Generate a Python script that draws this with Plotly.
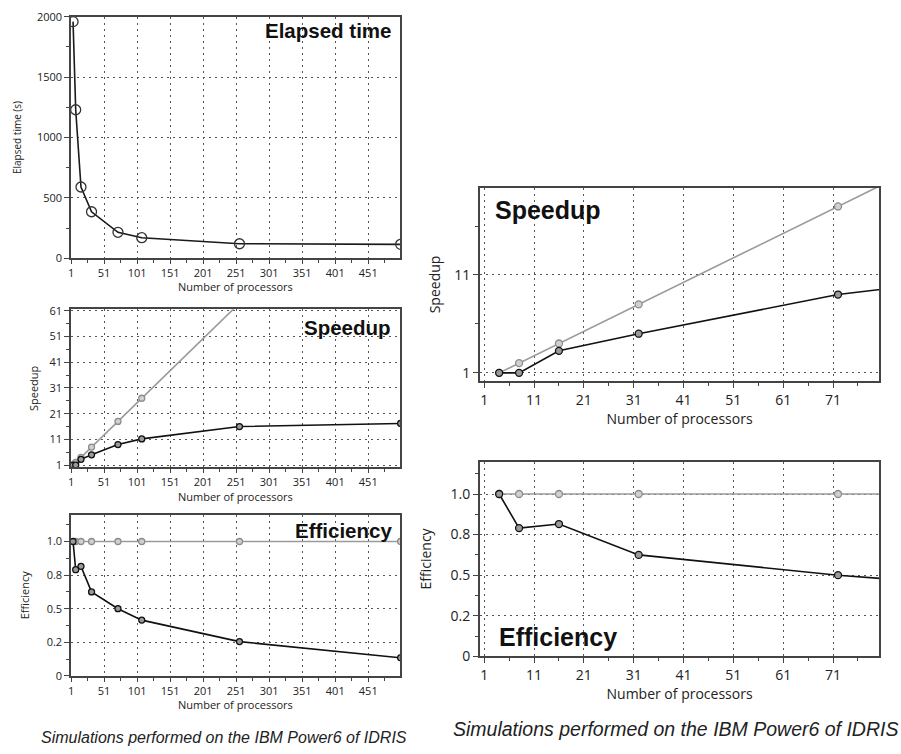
import plotly.graph_objects as go

# ---------------- data ----------------
procs = [4, 8, 16, 32, 72, 108, 256, 500]
elapsed_s = [1960, 1230, 590, 385, 215, 170, 120, 115]
speedup = [1.0, 1.0, 3.25, 5.0, 9.0, 11.2, 16.0, 17.2]
ideal_speedup = [1, 2, 4, 8, 18, 27, 64, 125]
efficiency = [1.0, 0.79, 0.815, 0.625, 0.5, 0.415, 0.255, 0.135]
ideal_efficiency = [1, 1, 1, 1, 1, 1, 1, 1]

left_x_ticks = [1, 51, 101, 151, 201, 251, 301, 351, 401, 451]
right_x_ticks = [1, 11, 21, 31, 41, 51, 61, 71]
elapsed_ticks = [0, 500, 1000, 1500, 2000]
speedup_left_ticks = [1, 11, 21, 31, 41, 51, 61]
speedup_right_ticks = [1, 11]
eff_tickvals = [0, 0.25, 0.5, 0.75, 1.0]
eff_ticktext = ["0", "0.2", "0.5", "0.8", "1.0"]
caption = "Simulations performed on the IBM Power6 of IDRIS"
x_title = "Number of processors"

W, H = 901, 754


def px(x):
    return x / W


def py(y):
    return 1 - y / H


FONT = "Open Sans"
GRID = "#555555"
AXC = "#444444"

fig = go.Figure()


def black_trace(x, y, xa, ya, size=6):
    fig.add_trace(go.Scatter(
        x=x, y=y, xaxis=xa, yaxis=ya, mode="lines+markers",
        line=dict(color="#111111", width=1.6),
        marker=dict(symbol="circle", size=size, color="#9a9a9a",
                    line=dict(color="#111111", width=1.3)),
        hoverinfo="x+y"))


def gray_trace(x, y, xa, ya, size=6):
    fig.add_trace(go.Scatter(
        x=x, y=y, xaxis=xa, yaxis=ya, mode="lines+markers",
        line=dict(color="#9a9a9a", width=1.6),
        marker=dict(symbol="circle", size=size, color="#d0d0d0",
                    line=dict(color="#8c8c8c", width=1.3)),
        hoverinfo="x+y"))


# chart 1: elapsed time
fig.add_trace(go.Scatter(
    x=procs, y=elapsed_s, xaxis="x", yaxis="y", mode="lines+markers",
    line=dict(color="#1a1a1a", width=1.6),
    marker=dict(symbol="circle-open", size=10, color="#333333",
                line=dict(width=1.3)),
    hoverinfo="x+y"))

# chart 2: speedup (left)
gray_trace(procs, ideal_speedup, "x2", "y2", 6)
black_trace(procs, speedup, "x2", "y2", 6)

# chart 3: efficiency (left)
gray_trace(procs, ideal_efficiency, "x3", "y3", 6)
black_trace(procs, efficiency, "x3", "y3", 6)

# chart 4: speedup (right, zoom)
gray_trace(procs, ideal_speedup, "x4", "y4", 7)
black_trace(procs, speedup, "x4", "y4", 7)

# chart 5: efficiency (right, zoom)
gray_trace(procs, ideal_efficiency, "x5", "y5", 7)
black_trace(procs, efficiency, "x5", "y5", 7)


def xaxis(dom, rng, ticks, anchor, fs, tfs, minor_dtick, standoff, title, ticklen=5):
    return dict(
        domain=[px(dom[0]), px(dom[1])], range=rng, anchor=anchor,
        tickmode="array", tickvals=ticks, ticktext=[str(t) for t in ticks],
        ticks="outside", ticklen=ticklen, tickwidth=1.2, tickcolor=AXC,
        minor=dict(ticks="outside", ticklen=3, tickwidth=1, tickcolor=AXC,
                   tick0=ticks[0] + minor_dtick / 2, dtick=minor_dtick, showgrid=False),
        showgrid=True, gridcolor=GRID, gridwidth=1, griddash="2px,4px",
        showline=True, linecolor=AXC, linewidth=1.5, mirror=True,
        zeroline=False, tickfont=dict(family=FONT, size=fs, color="#222222"),
        title=dict(text=title, standoff=standoff,
                   font=dict(family=FONT, size=tfs, color="#222222")),
        fixedrange=True)


def yaxis(dom, rng, tickvals, ticktext, anchor, fs, tfs, title, minor_tick0, minor_dtick, standoff):
    return dict(
        domain=[py(dom[1]), py(dom[0])], range=rng, anchor=anchor,
        tickmode="array", tickvals=tickvals, ticktext=ticktext,
        ticks="outside", ticklen=5, tickwidth=1.2, tickcolor=AXC,
        minor=dict(ticks="outside", ticklen=3, tickwidth=1, tickcolor=AXC,
                   tick0=minor_tick0, dtick=minor_dtick, showgrid=False),
        showgrid=True, gridcolor=GRID, gridwidth=1, griddash="2px,4px",
        showline=True, linecolor=AXC, linewidth=1.5, mirror=True,
        zeroline=False, tickfont=dict(family=FONT, size=fs, color="#222222"),
        title=dict(text=title, standoff=standoff,
                   font=dict(family=FONT, size=tfs, color="#222222")),
        fixedrange=True)


LX = (68.3, 398.3)
RX = (478.3, 879.3)

layout = dict(
    width=W, height=H, margin=dict(l=0, r=0, t=0, b=0),
    paper_bgcolor="white", plot_bgcolor="white", showlegend=False,
    xaxis=xaxis(LX, [1, 499], left_x_ticks, "y", 11, 11, 50, 0, "", 4),
    yaxis=yaxis((9, 256), [0, 2000], elapsed_ticks, [str(t) for t in elapsed_ticks],
                "x", 11, 10, "Elapsed time (s)", 250, 500, 13),
    xaxis2=xaxis(LX, [1, 499], left_x_ticks, "y2", 11, 11, 50, 0, "", 4),
    yaxis2=yaxis((308.3, 470), [0.1, 61.6], speedup_left_ticks,
                 [str(t) for t in speedup_left_ticks], "x2", 11, 11, "Speedup", 6, 10, 9),
    xaxis3=xaxis(LX, [1, 499], left_x_ticks, "y3", 11, 11, 50, 0, "", 4),
    yaxis3=yaxis((518.3, 683.3), [0, 1.2], eff_tickvals, eff_ticktext,
                 "x3", 11, 11, "Efficiency", 0.125, 0.25, 15),
    xaxis4=xaxis(RX, [0.1, 80.3], right_x_ticks, "y4", 14, 14, 10, 0, x_title),
    yaxis4=yaxis((184, 381.7), [0.16, 19.9], speedup_right_ticks,
                 [str(t) for t in speedup_right_ticks], "x4", 14, 14, "Speedup", 6, 10, 10),
    xaxis5=xaxis(RX, [0.1, 80.3], right_x_ticks, "y5", 14, 14, 10, 2, x_title),
    yaxis5=yaxis((464, 663.3), [0, 1.2], eff_tickvals, eff_ticktext,
                 "x5", 14, 14, "Efficiency", 0.125, 0.25, 16),
)
fig.update_layout(**layout)

# x-axis titles of the left column
for yy in (285, 499.5, 713):
    fig.add_annotation(text=x_title, x=px(233.3), y=py(yy), xref="paper", yref="paper",
                       xanchor="center", yanchor="middle", showarrow=False,
                       font=dict(family=FONT, size=11, color="#222222"))

TF = "Liberation Sans"
annots = [
    dict(text="<b>Elapsed time</b>", x=px(391), y=py(23), xanchor="right", yanchor="middle", size=20.5),
    dict(text="<b>Speedup</b>", x=px(391), y=py(327), xanchor="right", yanchor="middle", size=20.5),
    dict(text="<b>Efficiency</b>", x=px(392), y=py(535), xanchor="right", yanchor="middle", size=20.5),
    dict(text="<b>Speedup</b>", x=px(492), y=py(207), xanchor="left", yanchor="middle", size=25),
    dict(text="<b>Efficiency</b>", x=px(496), y=py(643), xanchor="left", yanchor="middle", size=25),
]
for a in annots:
    fig.add_annotation(text=a["text"], x=a["x"], y=a["y"], xref="paper", yref="paper",
                       xanchor=a["xanchor"], yanchor=a["yanchor"], showarrow=False,
                       font=dict(family=TF, size=a["size"], color="#111111"))

fig.add_annotation(text="<i>" + caption + "</i>", x=px(222), y=py(746), xref="paper", yref="paper",
                   xanchor="center", yanchor="middle", showarrow=False,
                   font=dict(family=TF, size=16, color="#222222"))
fig.add_annotation(text="<i>" + caption + "</i>", x=px(675), y=py(738), xref="paper", yref="paper",
                   xanchor="center", yanchor="middle", showarrow=False,
                   font=dict(family=TF, size=19.5, color="#222222"))

fig.write_html("out.html")
